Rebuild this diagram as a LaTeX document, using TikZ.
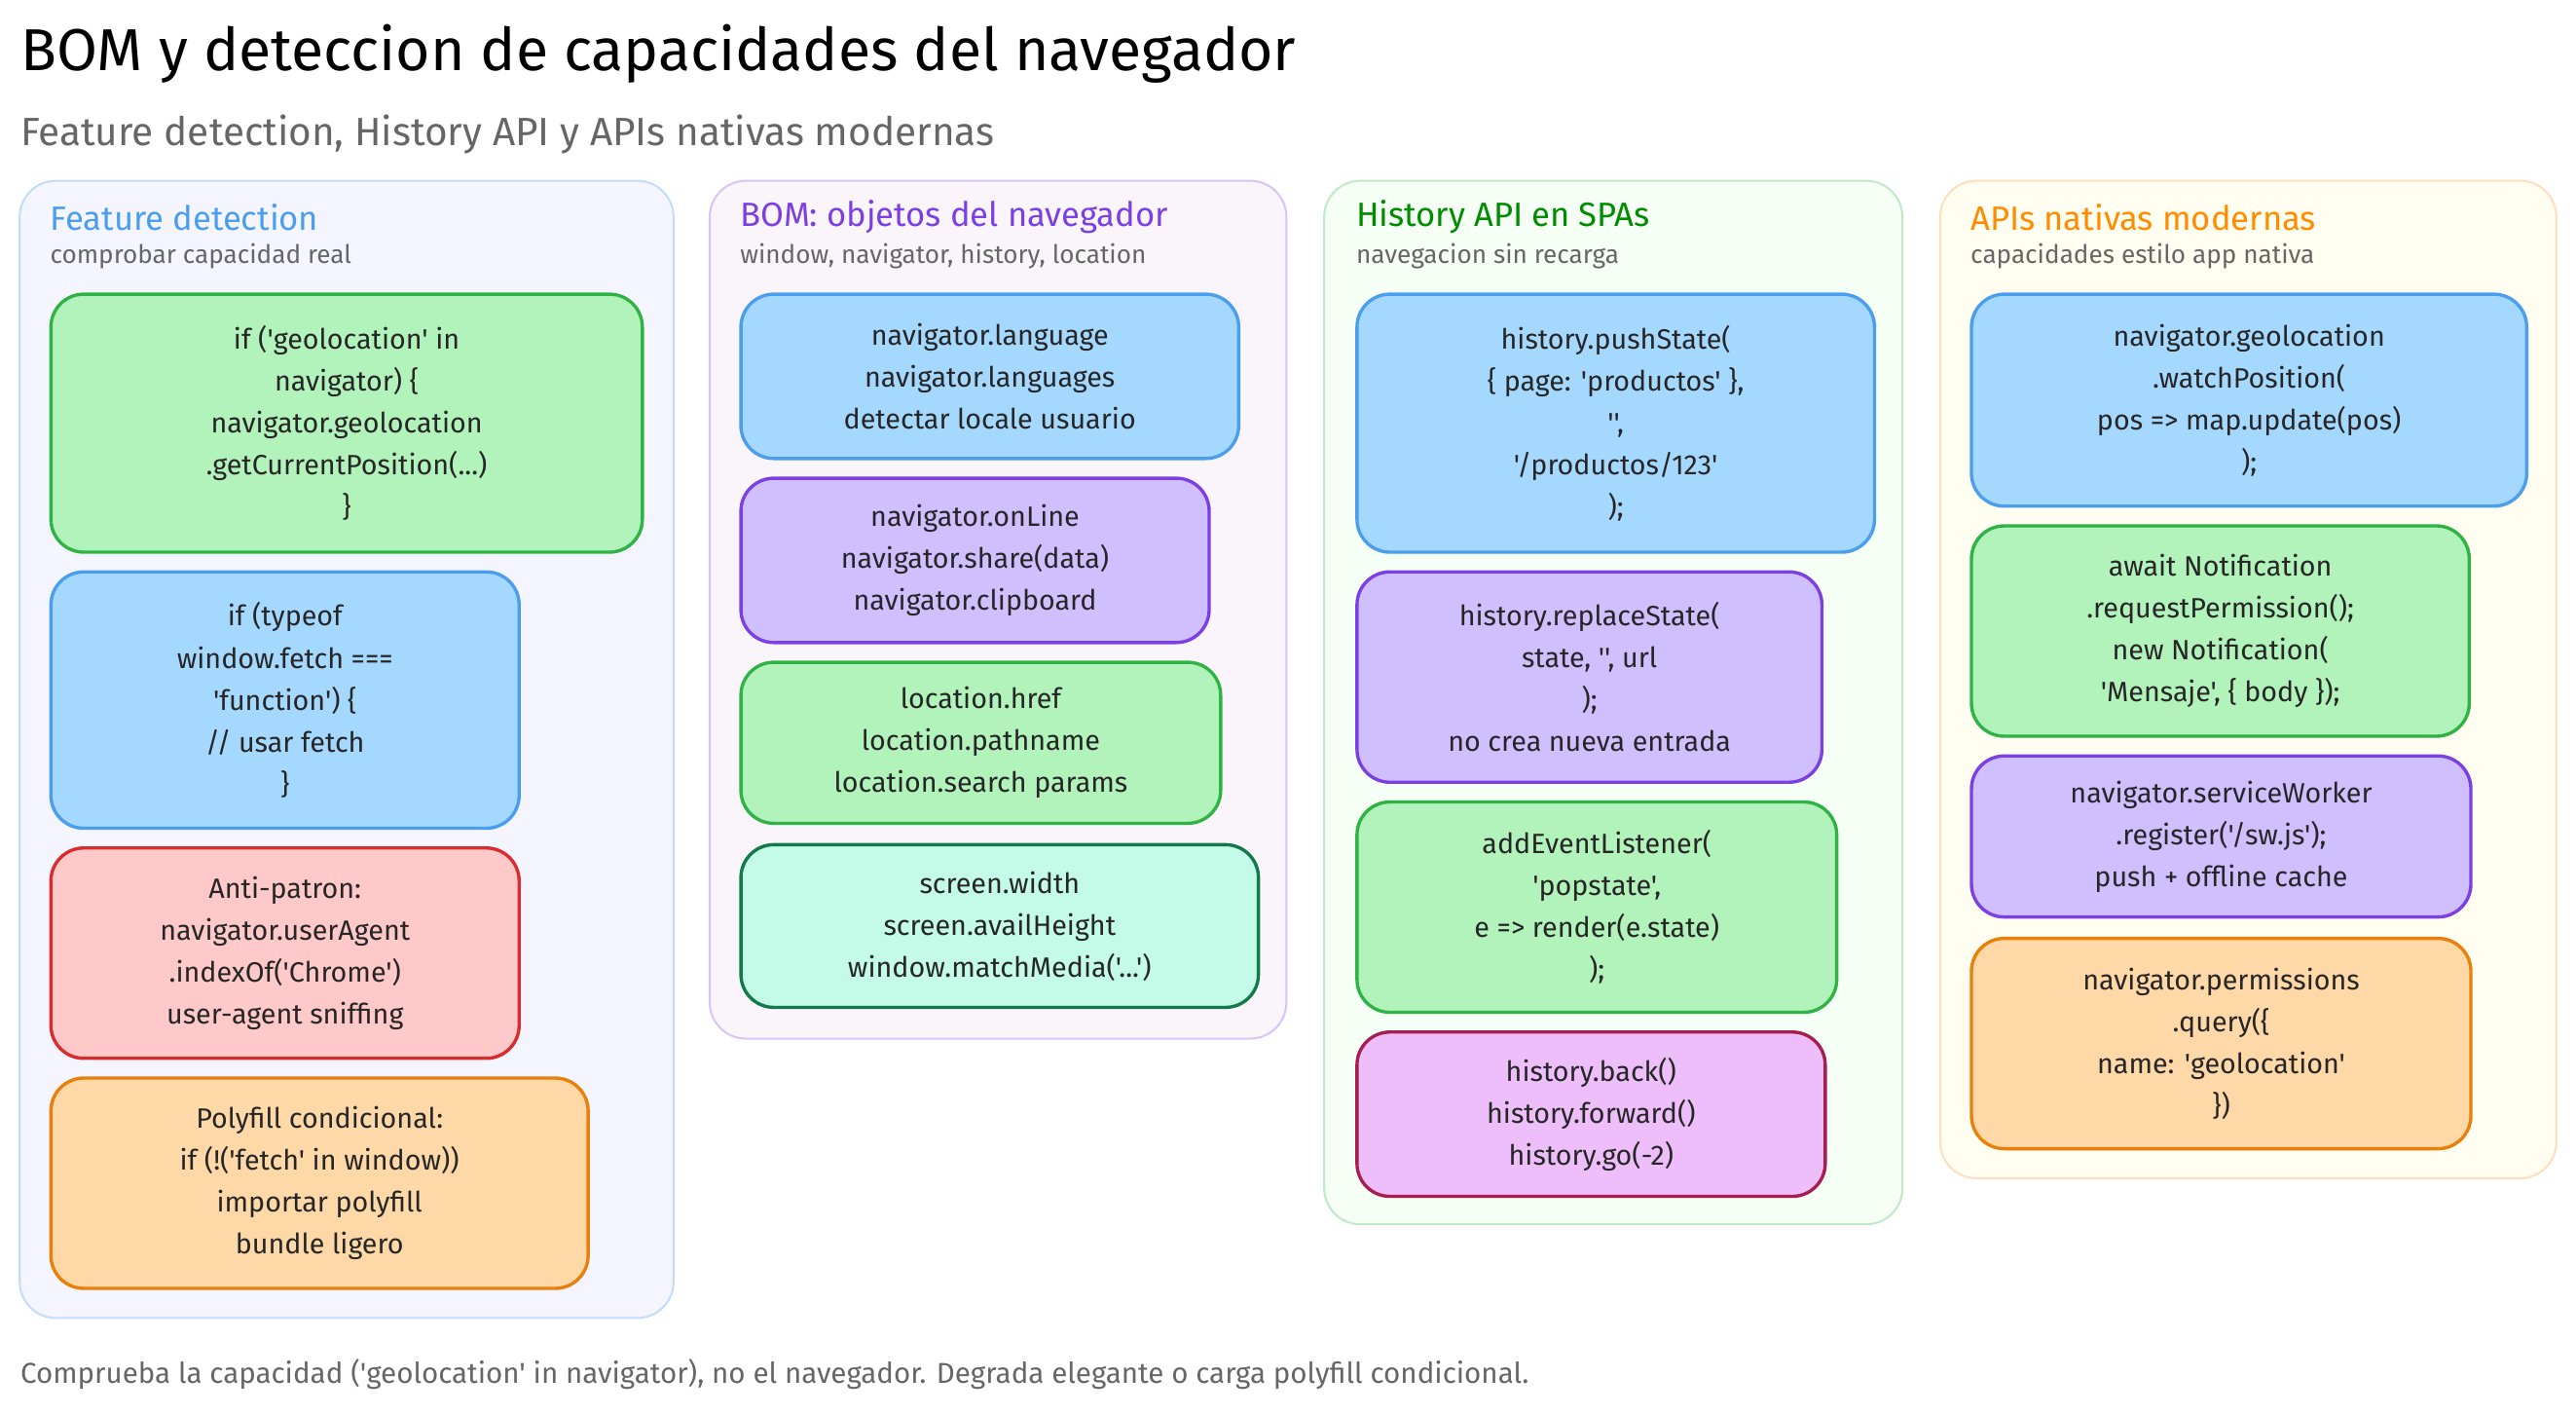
\documentclass[tikz,border=0pt]{standalone}
\usepackage{fontspec}
\newfontfamily\hand{Fira Sans}
\begin{document}
\begin{tikzpicture}[x=1pt,y=-1pt,
 every node/.style={font=\hand},
 col/.style 2 args={draw=#2,fill=#1,line width=1.2pt,rounded corners=22pt},
 bx/.style={anchor=north west,inner sep=0pt,align=center,rounded corners=20pt,line width=2pt,font=\hand\fontsize{17}{25.5}\selectfont,text=black!85},
 blu/.style={bx,fill=cBlueF,draw=cBlueD},
 grn/.style={bx,fill=cGrnF,draw=cGrnD},
 red/.style={bx,fill=cRedF,draw=cRedD},
 org/.style={bx,fill=cOrgF,draw=cOrgD},
 pur/.style={bx,fill=cPurF,draw=cPurD},
 tel/.style={bx,fill=cTelF,draw=cTelD},
 pnk/.style={bx,fill=cPnkF,draw=cPnkD},
 ttl/.style={anchor=west,font=\hand\fontsize{20.5}{22}\selectfont},
 sub/.style={anchor=west,font=\hand\fontsize{15.5}{17}\selectfont,text=black!60}]
\definecolor{cBlueF}{HTML}{A5D8FF}\definecolor{cBlueD}{HTML}{4A9EED}
\definecolor{cGrnF}{HTML}{B2F2BB}\definecolor{cGrnD}{HTML}{2FB344}
\definecolor{cRedF}{HTML}{FFC9C9}\definecolor{cRedD}{HTML}{D92D2D}
\definecolor{cOrgF}{HTML}{FFD8A8}\definecolor{cOrgD}{HTML}{E8800C}
\definecolor{cPurF}{HTML}{D0BFFF}\definecolor{cPurD}{HTML}{7B3FE4}
\definecolor{cTelF}{HTML}{C3FAE8}\definecolor{cTelD}{HTML}{127A4A}
\definecolor{cPnkF}{HTML}{EEBEFA}\definecolor{cPnkD}{HTML}{A61E4D}
\useasboundingbox[fill=white] (0,0) rectangle (1568,860);
\node[anchor=west,font=\hand\fontsize{36}{40}\selectfont] (t) at (9,33) {BOM y deteccion de capacidades del navegador};
\node[anchor=west,font=\hand\fontsize{24}{27}\selectfont,text=black!60] (st) at (9,82) {Feature detection, History API y APIs nativas modernas};
\node[anchor=west,font=\hand\fontsize{17.5}{20}\selectfont,text=black!60] (ft) at (9,836) {Comprueba la capacidad ('geolocation' in navigator), no el navegador. Degrada elegante o carga polyfill condicional.};
% columns
\draw[col={blue!4}{cBlueD!35}] (12,110) rectangle (410,802);
\draw[col={violet!4}{cPurD!30}] (432,110) rectangle (783,632);
\draw[col={green!4}{cGrnD!30}] (806,110) rectangle (1158,745);
\draw[col={yellow!6}{orange!25}] (1181,110) rectangle (1556,717);
\node[ttl,text=cBlueD] (h1) at (27,132) {Feature detection};
\node[sub] (s1) at (27,156) {comprobar capacidad real};
\node[ttl,text=cPurD] (h2) at (447,132) {BOM: objetos del navegador};
\node[sub] (s2) at (447,156) {window, navigator, history, location};
\node[ttl,text=green!55!black] (h3) at (822,132) {History API en SPAs};
\node[sub] (s3) at (822,156) {navegacion sin recarga};
\node[ttl,text=orange!90!yellow] (h4) at (1196,132) {APIs nativas modernas};
\node[sub] (s4) at (1196,156) {capacidades estilo app nativa};
% col1
\node[grn,minimum width=360,minimum height=157] (a1) at (30,178) {if ('geolocation' in\\navigator) \{\\navigator.geolocation\\.getCurrentPosition(...)\\\}};
\node[blu,minimum width=285,minimum height=156] (a2) at (30,347) {if (typeof\\window.fetch ===\\'function') \{\\// usar fetch\\\}};
\node[red,minimum width=285,minimum height=128] (a3) at (30,515) {Anti-patron:\\navigator.userAgent\\.indexOf('Chrome')\\user-agent sniffing};
\node[org,minimum width=327,minimum height=128] (a4) at (30,655) {Polyfill condicional:\\if (!('fetch' in window))\\importar polyfill\\bundle ligero};
% col2
\node[blu,minimum width=303,minimum height=100] (b1) at (450,178) {navigator.language\\navigator.languages\\detectar locale usuario};
\node[pur,minimum width=285,minimum height=100] (b2) at (450,290) {navigator.onLine\\navigator.share(data)\\navigator.clipboard};
\node[grn,minimum width=292,minimum height=98] (b3) at (450,402) {location.href\\location.pathname\\location.search params};
\node[tel,minimum width=315,minimum height=99] (b4) at (450,513) {screen.width\\screen.availHeight\\window.matchMedia('...')};
% col3
\node[blu,minimum width=315,minimum height=157] (c1) at (825,178) {history.pushState(\\\{ page: 'productos' \},\\'',\\'/productos/123'\\);};
\node[pur,minimum width=283,minimum height=128] (c2) at (825,347) {history.replaceState(\\state, '', url\\);\\no crea nueva entrada};
\node[grn,minimum width=292,minimum height=128] (c3) at (825,487) {addEventListener(\\'popstate',\\e => render(e.state)\\);};
\node[pnk,minimum width=285,minimum height=100] (c4) at (825,627) {history.back()\\history.forward()\\history.go(-2)};
% col4
\node[blu,minimum width=338,minimum height=129] (d1) at (1199,178) {navigator.geolocation\\.watchPosition(\\pos => map.update(pos)\\);};
\node[grn,minimum width=303,minimum height=128] (d2) at (1199,319) {await Notification\\.requestPermission();\\new Notification(\\'Mensaje', \{ body \});};
\node[pur,minimum width=304,minimum height=98] (d3) at (1199,459) {navigator.serviceWorker\\.register('/sw.js');\\push + offline cache};
\node[org,minimum width=304,minimum height=128] (d4) at (1199,570) {navigator.permissions\\.query(\{\\name: 'geolocation'\\\})};
\end{tikzpicture}
\end{document}
